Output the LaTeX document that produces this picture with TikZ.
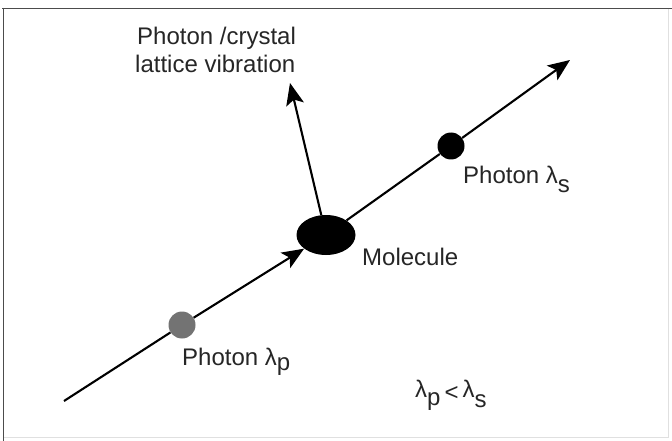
\documentclass[tikz,border=0pt]{standalone}
\usepackage{fontspec}
\setmainfont{Liberation Sans}
\usetikzlibrary{arrows.meta,shapes.geometric}
\begin{document}
\begin{tikzpicture}[x=1pt,y=-1pt,
  lbl/.style={anchor=base west,inner sep=0pt,font=\fontsize{24}{28}\selectfont,text=black!85},
  ray/.style={line width=2.1pt,-{Stealth[length=22pt,width=18pt,inset=5pt]}},
  photon/.style={circle,inner sep=0pt,minimum size=27pt}]
\useasboundingbox (0,0) rectangle (672,441);
\fill[white] (0,0) rectangle (672,441);
% frame
\draw[line width=1.6pt,black!70] (2,8.5) -- (672,8.5);
\draw[line width=1.6pt,black!70] (3.5,8) -- (3.5,441);
\draw[line width=0.8pt,black!12] (668.5,9) -- (668.5,437.5) -- (3.5,437.5);
% nodes
\node[ellipse,fill=black,inner sep=0pt,minimum width=59pt,minimum height=40pt] (mol) at (326,235) {};
\coordinate (start) at (64,401);
\coordinate (endS) at (570,60);
\coordinate (endV) at (290,83);
\node[photon,fill=black!55] (pp) at (182,325) {};
\node[photon,fill=black] (ps) at (451,146) {};
% connectors
\draw[ray] (start) -- (pp) -- (mol);
\draw[ray] (mol) -- (ps) -- (endS);
\draw[ray] (mol) -- (endV);
% labels
\node[lbl] (t1) at (137,45) {Photon /crystal};
\node[lbl] (t2) at (135,73) {lattice vibration};
\node[lbl] (tm) at (362,265) {Molecule};
\node[lbl] (tps) at (463,183) {Photon λ\raisebox{-9pt}{s}};
\node[lbl] (tpp) at (182,365) {Photon λ\raisebox{-5pt}{p}};
\node[lbl] (tineq) at (415,397) {λ\raisebox{-8pt}{p}\,\raisebox{-3pt}{<}\,λ\raisebox{-10pt}{s}};
\end{tikzpicture}
\end{document}
